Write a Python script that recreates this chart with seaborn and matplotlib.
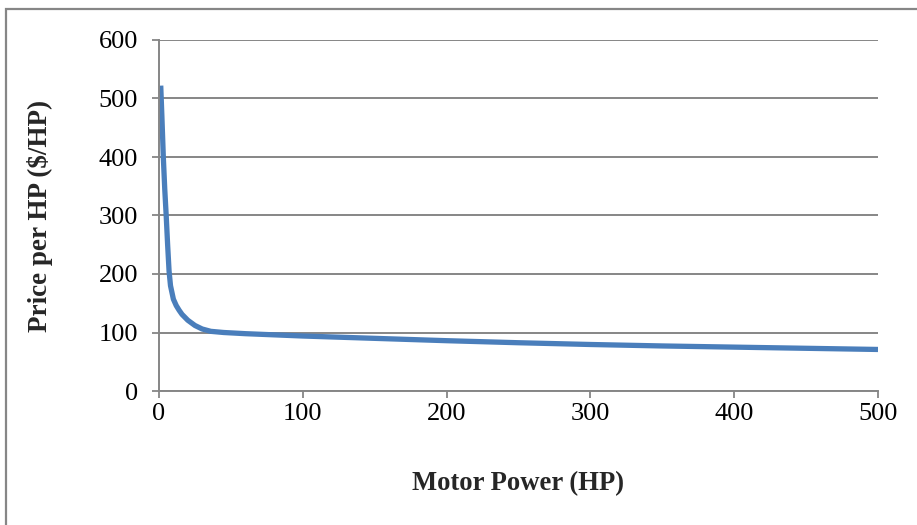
import matplotlib
matplotlib.use("Agg")
import matplotlib.pyplot as plt
import seaborn as sns
import pandas as pd
from matplotlib.patches import Rectangle

motor_hp = [1.2, 2, 3, 4, 5, 6, 7, 8, 10, 12, 14, 16, 20, 25, 30, 36, 45, 60, 80, 100, 150, 200, 250, 300, 350, 400, 450, 500]
price_per_hp = [522, 470, 400, 345, 300, 250, 205, 180, 157, 146, 138, 131, 121, 112, 106, 102, 100, 98, 96, 94, 90, 86, 82.5, 79.5, 77, 75, 73, 71]
x_ticks = [0, 100, 200, 300, 400, 500]
y_ticks = [0, 100, 200, 300, 400, 500, 600]

sns.set_theme(style="white")
plt.rcParams["font.family"] = ["Liberation Serif", "DejaVu Serif"]

df = pd.DataFrame({"Motor Power (HP)": motor_hp, "Price per HP ($/HP)": price_per_hp})

fig = plt.figure(figsize=(9.17, 5.25), dpi=100)
ax = fig.add_axes([159/917, (525-391)/525, (878-159)/917, (391-40)/525])

sns.lineplot(data=df, x="Motor Power (HP)", y="Price per HP ($/HP)", ax=ax,
             color="#4A7EBB", linewidth=3.8, solid_capstyle="butt", solid_joinstyle="round")

grey = "#868686"
ax.set_xlim(0, 500)
ax.set_ylim(0, 600)
ax.set_xticks(x_ticks)
ax.set_yticks(y_ticks)
ax.tick_params(axis="both", labelsize=19, colors="black", length=5, width=1.3, direction="out")
ax.tick_params(axis="both", color=grey)
ax.tick_params(axis="y", pad=10)
ax.tick_params(axis="x", pad=4)
ax.xaxis.set_ticks_position("bottom")
ax.yaxis.set_ticks_position("left")
ax.yaxis.grid(True, color=grey, linewidth=1.4)
ax.xaxis.grid(False)
ax.set_axisbelow(True)
for s in ["top", "right"]:
    ax.spines[s].set_visible(False)
for s in ["left", "bottom"]:
    ax.spines[s].set_color(grey)
    ax.spines[s].set_linewidth(1.4)

ax.set_xlabel("Motor Power (HP)", fontsize=19.2, fontweight="bold", labelpad=33)
ax.set_ylabel("Price per HP ($/HP)", fontsize=19.5, fontweight="bold", labelpad=33)

fig.patches.append(Rectangle((6/917, -0.1), 1.2, (525-9)/525 + 0.1, transform=fig.transFigure,
                             fill=False, edgecolor=grey, linewidth=1.6))

fig.savefig("out.png", dpi=100)
